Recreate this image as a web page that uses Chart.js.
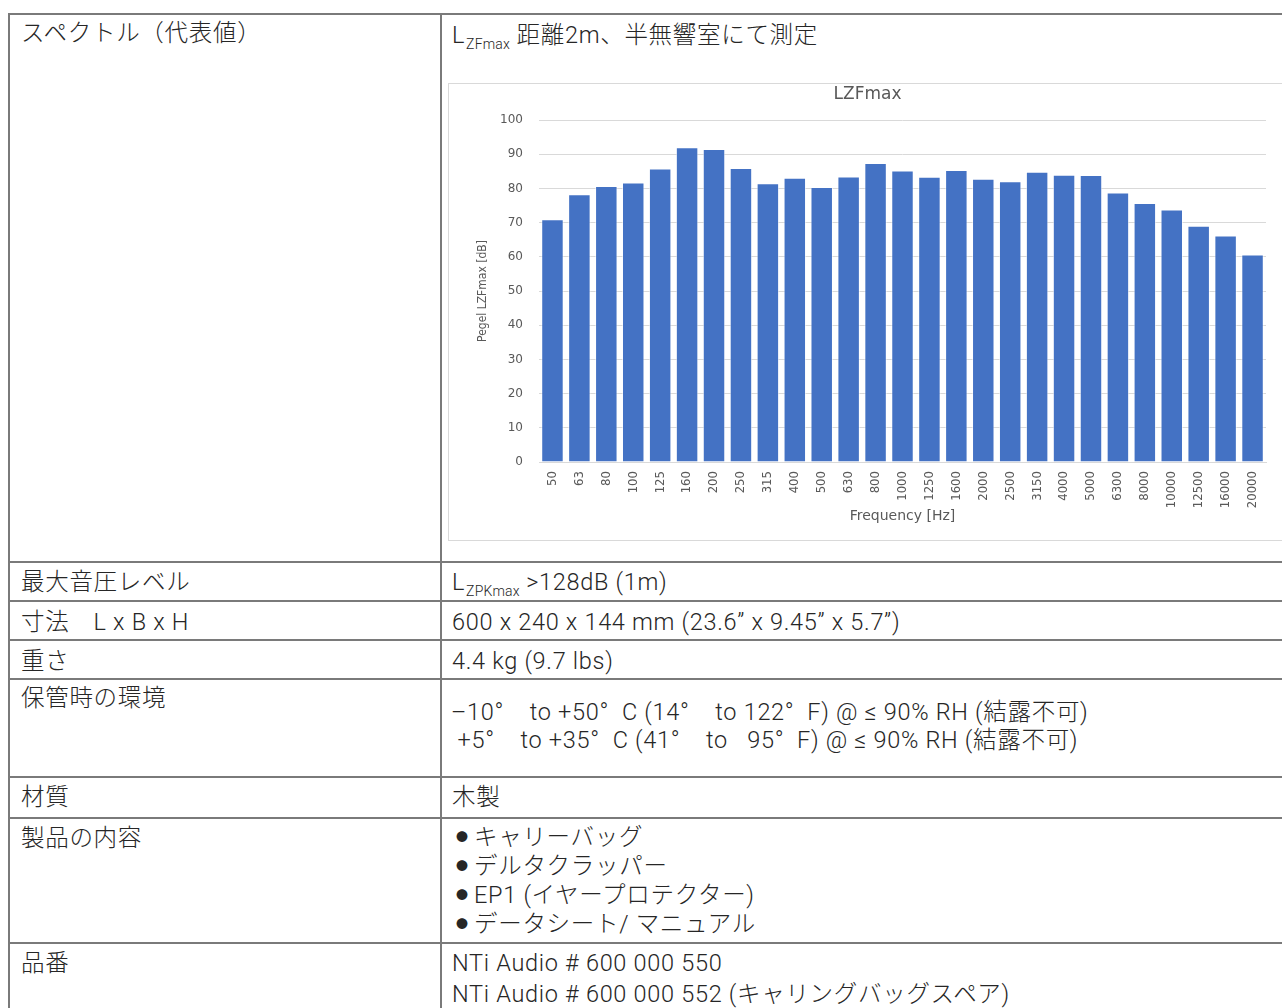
<!DOCTYPE html>
<html lang="ja">
<head>
<meta charset="utf-8">
<script src="https://cdn.jsdelivr.net/npm/chart.js@4/dist/chart.umd.min.js"></script>
<style>
  html, body { margin:0; padding:0; background:#fff; width:1282px; height:1008px; overflow:hidden; }
  body { position:relative; font-family:Roboto,"Noto Sans CJK JP","Noto Sans",sans-serif; font-weight:300; font-size:23.5px; color:#262626; letter-spacing:0; }
  .hl { position:absolute; height:2px; background:#7a7a7a; left:8px; width:1300px; }
  .vl { position:absolute; width:2px; background:#7a7a7a; top:13px; height:1000px; }
  .t { position:absolute; line-height:30px; white-space:pre; letter-spacing:0.7px; }
  .l { left:21px; }
  .r { left:452px; }
  sub { font-size:14px; vertical-align:-6px; line-height:0; margin-left:1px; letter-spacing:0.2px; }
  .b { font-size:12px; display:inline-block; width:18px; margin-left:4px; vertical-align:3px; }
  #frame { position:absolute; left:448px; top:83px; width:900px; height:456px; border:1px solid #d9d9d9; }
  #chart { position:absolute; left:449px; top:84px; letter-spacing:0; }
</style>
</head>
<body>
<div class="hl" style="top:13px"></div>
<div class="hl" style="top:561px"></div>
<div class="hl" style="top:600px"></div>
<div class="hl" style="top:639px"></div>
<div class="hl" style="top:678px"></div>
<div class="hl" style="top:776px"></div>
<div class="hl" style="top:817px"></div>
<div class="hl" style="top:942px"></div>
<div class="vl" style="left:8px"></div>
<div class="vl" style="left:440px"></div>

<div class="t l" style="top:18px">スペクトル（代表値）</div>
<div class="t r" style="top:20px">L<sub>ZFmax</sub> 距離2m、半無響室にて測定</div>

<div class="t l" style="top:567px">最大音圧レベル</div>
<div class="t r" style="top:567px">L<sub>ZPKmax</sub> &gt;128dB (1m)</div>

<div class="t l" style="top:607px">寸法　L x B x H</div>
<div class="t r" style="top:607px">600 x 240 x 144 mm (23.6” x 9.45” x 5.7”)</div>

<div class="t l" style="top:646px">重さ</div>
<div class="t r" style="top:646px">4.4 kg (9.7 lbs)</div>

<div class="t l" style="top:683px">保管時の環境</div>
<div class="t r" style="top:697px;left:451px">–10°    to +50°  C (14°    to 122°  F) @ ≤ 90% RH (結露不可)</div>
<div class="t r" style="top:725px;left:451px"> +5°    to +35°  C (41°    to   95°  F) @ ≤ 90% RH (結露不可)</div>

<div class="t l" style="top:782px">材質</div>
<div class="t r" style="top:782px">木製</div>

<div class="t l" style="top:823px">製品の内容</div>
<div class="t r" style="top:822px"><span class="b">●</span>キャリーバッグ</div>
<div class="t r" style="top:851px"><span class="b">●</span>デルタクラッパー</div>
<div class="t r" style="top:880px"><span class="b">●</span>EP1 (イヤープロテクター)</div>
<div class="t r" style="top:909px"><span class="b">●</span>データシート/ マニュアル</div>

<div class="t l" style="top:948px">品番</div>
<div class="t r" style="top:948px">NTi Audio # 600 000 550</div>
<div class="t r" style="top:979px">NTi Audio # 600 000 552 (キャリングバッグスペア)</div>

<div id="frame"></div>
<canvas id="chart" width="838" height="456"></canvas>

<script>
const chartTitle = 'LZFmax';
const xAxisTitle = 'Frequency [Hz]';
const yAxisTitle = 'Pegel LZFmax [dB]';
const categories = ['50','63','80','100','125','160','200','250','315','400','500','630','800','1000','1250','1600','2000','2500','3150','4000','5000','6300','8000','10000','12500','16000','20000'];
const levels = [71.0,78.3,80.7,81.7,85.8,92.0,91.5,86.0,81.5,83.1,80.4,83.5,87.4,85.2,83.4,85.4,82.8,82.1,84.9,84.0,83.9,78.8,75.7,73.8,69.1,66.2,60.7];
const yMin = 0, yMax = 100, yStep = 10;

const grey = '#595959';
new Chart(document.getElementById('chart'), {
  type: 'bar',
  data: {
    labels: categories,
    datasets: [{
      label: chartTitle,
      data: levels,
      backgroundColor: '#4472C4',
      borderColor: 'rgba(255,255,255,0.55)',
      borderWidth: 1,
      barPercentage: 0.835,
      categoryPercentage: 1
    }]
  },
  options: {
    responsive: false,
    animation: false,
    layout: { padding: { left: 20, right: 21, top: 0, bottom: 0 } },
    plugins: {
      legend: { display: false },
      tooltip: { enabled: false },
      title: {
        display: true,
        text: chartTitle,
        color: grey,
        font: { family: '"DejaVu Sans", sans-serif', size: 17, weight: 'normal', lineHeight: 1.2 },
        padding: { top: 0, bottom: 15.6 }
      }
    },
    scales: {
      x: {
        grid: { display: false, drawTicks: false },
        border: { display: true, color: '#d9d9d9' },
        ticks: {
          autoSkip: false, minRotation: 90, maxRotation: 90, padding: 9,
          color: grey,
          font: { family: '"Liberation Sans Narrow", "DejaVu Sans Condensed", sans-serif', size: 13 }
        },
        title: {
          display: true, text: xAxisTitle, color: grey,
          font: { family: '"DejaVu Sans", sans-serif', size: 14, lineHeight: 1.2 },
          padding: { top: 0, bottom: 15.6 }
        },
        afterFit(s) { s.height = 78; }
      },
      y: {
        min: yMin, max: yMax,
        grid: { color: '#d9d9d9', lineWidth: 1, drawTicks: false },
        border: { display: false },
        ticks: {
          stepSize: yStep, padding: 16, color: grey,
          font: { family: '"DejaVu Sans", sans-serif', size: 12 }
        },
        title: {
          display: true, text: yAxisTitle, color: grey,
          font: { family: '"DejaVu Sans Condensed", sans-serif', size: 12, lineHeight: 1.2 },
          padding: { top: 7, bottom: 0 }
        },
        afterFit(s) { s.width = 70; }
      }
    }
  }
});
</script>
</body>
</html>
